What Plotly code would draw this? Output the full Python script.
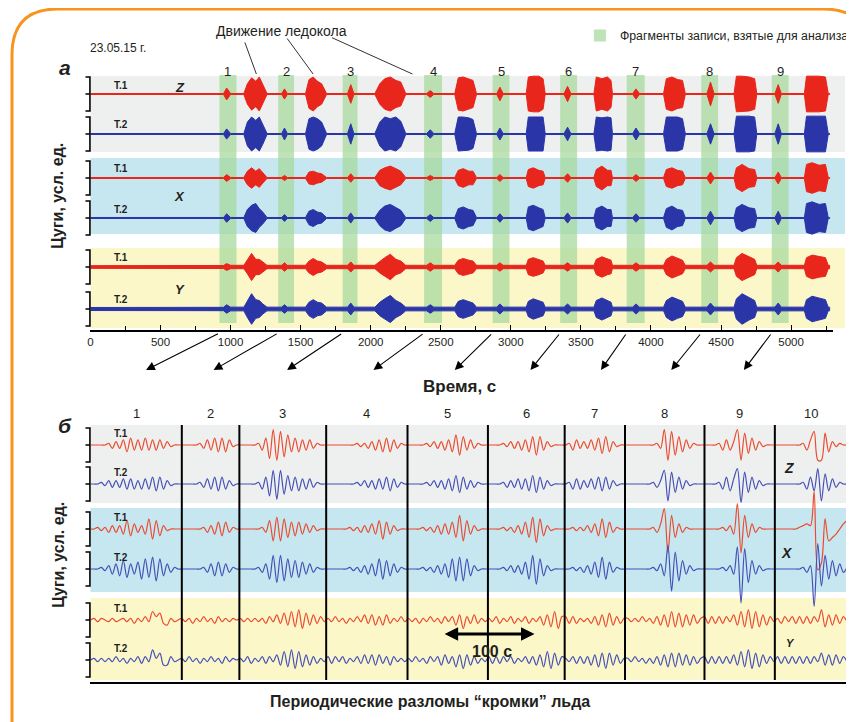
import numpy as np
import plotly.graph_objects as go

# the page adds an 8 px body margin, so the figure is laid out in page pixels minus 8
PAGE_W, PAGE_H, OFF = 854, 722, 8
W, H = PAGE_W - OFF, PAGE_H - OFF
def fx(p): return (p - OFF) / W
def fy(p): return 1 - (p - OFF) / H

FONT = 'Liberation Sans, Arial, Helvetica, sans-serif'
INK = '#231f20'
RED_A, BLUE_A = '#e8261c', '#2a35a8'
RED_B, BLUE_B = '#ea4b2f', '#4550b6'
GRAY_BAND, CYAN_BAND, YELLOW_BAND = '#eef0ef', '#c6e6f0', '#fbf7c9'
GREEN = 'rgba(165,216,155,0.72)'
ORANGE = '#f7941d'

# ---------------- DATA: panel "а" (time, s) ----------------
frag_start = [921, 1340, 1800, 2381, 2870, 3352, 3827, 4359, 4862]
frag_end = [1042, 1453, 1906, 2509, 2990, 3473, 3955, 4479, 4982]
frag_labels = ['1', '2', '3', '4', '5', '6', '7', '8', '9']
arrow_head_t = [397, 879, 1403, 2020, 2600, 3140, 3643, 4145, 4663]
icebreaker_t = [1184, 1589, 2298]

t_a = [0,
       950, 972, 1000,
       1095, 1120, 1150, 1180, 1205, 1230, 1260,
       1365, 1385, 1405,
       1535, 1560, 1590, 1620, 1650, 1685,
       1835, 1858, 1880,
       2030, 2065, 2100, 2140, 2180, 2215, 2250,
       2400, 2425, 2450,
       2600, 2625, 2660, 2700, 2730, 2755,
       2900, 2922, 2945,
       3110, 3125, 3160, 3200, 3230, 3245,
       3380, 3405, 3428,
       3593, 3610, 3650, 3690, 3715, 3725,
       3870, 3893, 3918,
       4090, 4110, 4150, 4190, 4225, 4245,
       4400, 4425, 4450,
       4593, 4610, 4650, 4700, 4740, 4755,
       4885, 4908, 4930,
       5095, 5110, 5150, 5200, 5245, 5265,
       5275]

# envelope amplitudes (bracket half-height = 1)
z1_a = [0.03,
        0.03, 0.35, 0.03,
        0.03, 0.6, 0.95, 0.75, 1.0, 0.55, 0.03,
        0.03, 0.3, 0.03,
        0.03, 0.85, 1.0, 0.75, 0.6, 0.03,
        0.03, 0.55, 0.03,
        0.03, 0.6, 0.9, 1.0, 0.8, 0.7, 0.03,
        0.03, 0.2, 0.03,
        0.03, 0.95, 1.0, 0.9, 0.8, 0.03,
        0.03, 0.4, 0.03,
        0.03, 1.0, 1.05, 1.05, 0.9, 0.03,
        0.03, 0.45, 0.03,
        0.03, 1.0, 0.9, 1.0, 0.8, 0.03,
        0.03, 0.3, 0.03,
        0.03, 0.9, 1.0, 0.85, 0.8, 0.03,
        0.03, 0.7, 0.03,
        0.03, 1.05, 1.05, 1.0, 0.9, 0.03,
        0.03, 0.55, 0.03,
        0.03, 1.05, 1.05, 1.05, 1.0, 0.03,
        0.03]
z2_a = [0.03,
        0.03, 0.3, 0.03,
        0.03, 0.7, 1.0, 0.8, 1.0, 0.6, 0.03,
        0.03, 0.35, 0.03,
        0.03, 0.9, 1.0, 0.9, 0.7, 0.03,
        0.03, 0.6, 0.03,
        0.03, 0.7, 1.0, 0.9, 1.0, 0.75, 0.03,
        0.03, 0.25, 0.03,
        0.03, 1.0, 1.0, 0.95, 0.85, 0.03,
        0.03, 0.35, 0.03,
        0.03, 1.0, 1.0, 1.0, 1.0, 0.03,
        0.03, 0.4, 0.03,
        0.03, 1.0, 0.95, 1.0, 0.95, 0.03,
        0.03, 0.35, 0.03,
        0.03, 1.0, 1.0, 1.0, 0.9, 0.03,
        0.03, 0.6, 0.03,
        0.03, 1.05, 1.05, 1.05, 1.0, 0.03,
        0.03, 0.6, 0.03,
        0.03, 1.05, 1.05, 1.05, 1.05, 0.03,
        0.03]
x1_a = [0.03,
        0.03, 0.2, 0.03,
        0.03, 0.4, 0.6, 0.4, 0.55, 0.3, 0.03,
        0.03, 0.15, 0.03,
        0.03, 0.35, 0.4, 0.3, 0.25, 0.03,
        0.03, 0.25, 0.03,
        0.03, 0.45, 0.6, 0.7, 0.55, 0.4, 0.03,
        0.03, 0.15, 0.03,
        0.03, 0.45, 0.55, 0.4, 0.4, 0.03,
        0.03, 0.2, 0.03,
        0.03, 0.5, 0.6, 0.45, 0.4, 0.03,
        0.03, 0.25, 0.03,
        0.03, 0.5, 0.7, 0.45, 0.45, 0.03,
        0.03, 0.2, 0.03,
        0.03, 0.5, 0.6, 0.45, 0.4, 0.03,
        0.03, 0.35, 0.03,
        0.03, 0.6, 0.8, 0.55, 0.5, 0.03,
        0.03, 0.35, 0.03,
        0.03, 0.8, 0.9, 0.75, 0.8, 0.03,
        0.03]
x2_a = [0.03,
        0.03, 0.25, 0.03,
        0.03, 0.5, 0.75, 0.85, 0.55, 0.35, 0.03,
        0.03, 0.2, 0.03,
        0.03, 0.4, 0.5, 0.35, 0.3, 0.03,
        0.03, 0.3, 0.03,
        0.03, 0.45, 0.7, 0.8, 0.6, 0.45, 0.03,
        0.03, 0.2, 0.03,
        0.03, 0.55, 0.65, 0.5, 0.45, 0.03,
        0.03, 0.25, 0.03,
        0.03, 0.65, 0.75, 0.6, 0.5, 0.03,
        0.03, 0.3, 0.03,
        0.03, 0.55, 0.7, 0.5, 0.5, 0.03,
        0.03, 0.25, 0.03,
        0.03, 0.55, 0.7, 0.5, 0.45, 0.03,
        0.03, 0.4, 0.03,
        0.03, 0.6, 0.8, 0.6, 0.55, 0.03,
        0.03, 0.4, 0.03,
        0.03, 0.85, 0.95, 0.8, 0.85, 0.03,
        0.03]
y1_a = [0.08,
        0.09, 0.2, 0.1,
        0.1, 0.4, 0.8, 0.45, 0.45, 0.3, 0.1,
        0.1, 0.25, 0.1,
        0.1, 0.35, 0.5, 0.35, 0.3, 0.1,
        0.1, 0.3, 0.1,
        0.1, 0.35, 0.55, 0.75, 0.45, 0.35, 0.1,
        0.1, 0.25, 0.1,
        0.1, 0.4, 0.5, 0.4, 0.35, 0.1,
        0.1, 0.25, 0.1,
        0.1, 0.45, 0.55, 0.45, 0.35, 0.1,
        0.1, 0.25, 0.1,
        0.1, 0.45, 0.6, 0.45, 0.4, 0.1,
        0.1, 0.25, 0.1,
        0.1, 0.45, 0.65, 0.5, 0.4, 0.1,
        0.1, 0.3, 0.1,
        0.1, 0.55, 0.8, 0.6, 0.45, 0.1,
        0.1, 0.3, 0.1,
        0.1, 0.55, 0.7, 0.6, 0.55, 0.1,
        0.1]
y2_a = [0.09,
        0.1, 0.25, 0.11,
        0.11, 0.5, 0.9, 0.55, 0.5, 0.3, 0.11,
        0.11, 0.25, 0.11,
        0.11, 0.4, 0.55, 0.4, 0.35, 0.11,
        0.11, 0.35, 0.11,
        0.11, 0.4, 0.6, 0.8, 0.5, 0.35, 0.11,
        0.11, 0.25, 0.11,
        0.11, 0.45, 0.55, 0.45, 0.35, 0.11,
        0.11, 0.3, 0.11,
        0.11, 0.45, 0.6, 0.5, 0.4, 0.11,
        0.11, 0.3, 0.11,
        0.11, 0.5, 0.65, 0.5, 0.4, 0.11,
        0.11, 0.3, 0.11,
        0.11, 0.5, 0.7, 0.55, 0.45, 0.11,
        0.11, 0.35, 0.11,
        0.11, 0.6, 0.9, 0.65, 0.5, 0.11,
        0.11, 0.35, 0.11,
        0.11, 0.55, 0.75, 0.65, 0.55, 0.11,
        0.11]

# ---------------- DATA: panel "б" (sampled every 4 s; 10 = bracket half-height) ----------------
dt_b = 4.0
seg_edges_b = [100, 163, 258, 347, 435, 519, 585, 672, 749]
t_end_b = 828
seg_labels_b = ['1', '2', '3', '4', '5', '6', '7', '8', '9', '10']
scale_bar_s = 100

z1_b = [[0,0,0,0,0,1,-2,2,-2,3,-4,4,-3,3,-3,4,-3,3,-3,3,-2,2,-1,0,0],
        [0,0,0,0,0,1,-2,3,-3,4,-4,4,-4,3,-1,0],
        [0,0,0,0,0,1,-3,4,-8,9,-9,8,-7,6,-4,4,-4,3,-3,3,-2,1,0,0],
        [0,0,0,0,0,0,0,0,1,-1,1,-2,2,-3,3,-4,4,-4,3,-2,1,0],
        [0,0,0,0,0,1,-1,2,-2,2,-3,3,-4,6,-6,5,-3,3,-2,1,0,0],
        [0,0,0,0,1,-1,2,-2,2,-3,3,-4,5,-6,5,-3,2,-1,0,0,0],
        [0,1,-3,3,-2,2,-2,3,-3,4,-5,5,-4,2,-1,0,0],
        [0,0,0,0,0,0,0,0,1,-2,9,-9,8,-6,5,-4,3,-2,1,0,0],
        [0,0,0,0,1,-3,3,-3,2,9,-9,7,-5,4,-3,2,-1,0,0,0],
        [0,0,0,0,0,0,0,1,-3,3,8,-9,-9,7,-4,2,-1,1,0,0]]
z2_b = [[0,0,0,1,-1,2,-2,2,-2,3,-3,3,-3,2,-3,3,-3,4,-4,4,-3,2,-1,0,0],
        [0,0,0,0,0,1,-2,3,-3,4,-4,4,-3,2,-1,0],
        [0,0,0,0,0,1,-3,4,-7,8,-9,8,-6,5,-4,4,-4,3,-3,3,-2,1,0,0],
        [0,0,0,0,0,0,0,0,1,-1,2,-2,2,-3,3,-3,4,-4,3,-2,1,0],
        [0,0,0,0,0,1,-1,2,-2,2,-3,3,-4,5,-5,4,-3,2,-2,1,0,0],
        [0,0,0,0,1,-2,2,-2,3,-3,3,-4,5,-5,4,-3,2,-1,0,0,0],
        [0,1,-3,3,-3,2,-2,3,-3,4,-4,4,-3,2,-1,0,0],
        [0,0,0,0,0,0,0,1,-2,2,8,-10,7,-5,4,-3,2,-1,0,0,0],
        [0,0,0,0,1,-3,4,-4,3,9,-11,7,-5,4,-3,2,-1,0,0,0],
        [0,0,0,0,0,0,0,1,-3,4,-4,9,-10,6,-4,3,-2,1,0,0]]
x1_b = [[0,0,1,-1,1,-2,2,-2,2,-3,5,-4,3,-2,2,-3,6,-6,5,-4,2,-1,0,0,0],
        [0,0,0,0,0,0,1,-2,2,-3,4,-4,4,-2,1,0],
        [0,0,0,0,0,0,1,-2,5,-7,7,-7,6,-5,4,-4,4,-3,3,-2,2,-1,0,0],
        [0,0,0,0,0,0,1,-1,1,-2,2,-2,3,-3,5,-6,4,-3,2,-1,0,0],
        [0,0,0,0,1,-1,1,-2,2,-3,3,-3,4,-5,8,-7,5,-3,2,-1,0,0],
        [0,0,0,0,1,-1,1,-2,2,-3,4,-5,7,-8,6,-4,2,-1,0,0,0],
        [0,0,1,-1,1,-1,2,-2,3,-4,6,-5,4,-2,1,0,0],
        [0,0,0,0,0,0,0,1,-2,3,12,-14,8,-5,3,-2,1,0,0,0,0],
        [0,0,0,0,0,1,-1,2,-3,15,-14,8,-5,3,-2,1,0,0,0,0],
        [0,0,0,0,0,0,1,2,3,2,22,-24,-20,6,-7,-5,-3,0,3,5]]
x2_b = [[0,0,0,1,-1,2,-3,3,-4,5,-5,3,-3,4,-6,6,-5,7,-7,6,-4,3,-2,1,0],
        [0,0,0,0,0,0,1,-2,3,-4,4,-4,3,-2,1,0],
        [0,0,0,0,0,1,-2,3,-6,8,-8,8,-7,6,-5,5,-5,4,-3,3,-2,1,0,0],
        [0,0,0,0,0,0,1,-1,1,-2,2,-3,3,-4,6,-6,5,-4,3,-2,1,0],
        [0,0,0,0,1,-1,1,-2,2,-3,3,-5,6,-7,7,-7,6,-4,2,-1,0,0],
        [0,0,0,0,1,-1,2,-2,2,-3,4,-6,8,-9,6,-4,2,-1,0,0,0],
        [0,0,1,-1,1,-2,2,-3,4,-5,7,-6,4,-2,1,0,0],
        [0,0,0,0,0,0,0,1,-1,3,-4,14,-13,10,-7,5,-3,2,-1,0,0],
        [0,0,0,0,0,1,-1,2,-3,13,-20,12,-8,5,-3,2,-1,0,0,0],
        [0,0,0,0,0,0,0,1,-2,2,-22,15,-10,8,-6,5,-4,3,-2,1]]
y1_b = [[0,1,-1,1,0,-1,1,-1,0,1,-1,1,-2,1,-1,2,-1,5,2,4,-2,-3,1,-1,0],
        [1,-1,1,-2,1,-1,2,-1,1,-2,2,-1,1,-1,1,0],
        [1,-1,1,-1,1,-1,1,-2,2,-1,3,-2,4,-3,5,-4,6,-5,4,-3,3,-2,2,-1],
        [1,-1,2,-1,1,-2,1,-1,2,-1,3,-2,3,-3,2,-3,3,-2,1,-1,2,-1],
        [1,-1,1,-2,1,-1,2,-1,1,-2,2,-1,2,-3,3,-5,2,-2,3,-2,1,-1],
        [1,-1,2,-2,1,-1,2,-2,1,-1,2,-2,1,-1,2,-3,3,-4,5,-5,2],
        [2,-2,2,-2,1,-1,1,-2,2,-3,3,-4,4,-3,2,-2,1],
        [1,-1,1,-1,2,-1,1,-2,2,-3,3,-4,5,-4,4,-4,3,-3,3,-2,1],
        [2,-2,2,-2,2,-2,2,-1,3,-3,5,-4,6,-5,5,-4,3,-3,2,-1],
        [1,-2,2,-1,2,-2,2,-2,2,-2,2,-1,6,-4,3,-3,3,-2,2,-1]]
y2_b = [[0,1,-1,1,-1,1,-1,2,-1,1,-2,1,-1,2,-2,2,-1,6,1,4,-3,-3,2,-1,0],
        [1,-1,2,-1,1,-2,1,-1,2,-1,1,-2,2,-1,1,0],
        [1,-1,2,-2,1,-1,2,-2,2,-1,3,-3,5,-4,6,-5,5,-4,3,-3,2,-2,1,-1],
        [2,-2,2,-1,2,-2,1,-1,2,-2,3,-2,3,-3,3,-2,2,-3,2,-1,1,-1],
        [1,-1,2,-1,1,-2,2,-1,2,-3,3,-2,2,-4,3,-5,3,-3,2,-2,1,-1],
        [2,-2,2,-2,2,-1,2,-2,1,-1,2,-2,2,-3,3,-4,5,-5,4,-3,2],
        [1,-1,2,-2,2,-2,2,-3,3,-4,4,-5,4,-3,3,-2,1],
        [1,-1,2,-1,1,-2,1,-2,2,-3,3,-4,4,-4,4,-3,3,-3,2,-2,1],
        [2,-2,2,-2,2,-2,2,-2,3,-3,5,-4,6,-5,4,-4,3,-2,2,-1],
        [2,-2,2,-2,2,-2,2,-2,2,-2,2,-1,4,-3,3,-3,3,-2,2,-1]]

# ---------------- LAYOUT GEOMETRY (page pixels) ----------------
BR = 17  # bracket half-height, px
A_X = (88, 836); A_TOP, A_BOT = 76, 328
B_X = (88, 850); B_TOP, B_BOT = 425, 680
brackets_a = [(77, 111), (117, 151), (161, 195), (201, 235), (250, 284), (291, 327)]
brackets_b = [(428, 462), (467, 501), (512, 546), (552, 586), (603, 637), (643, 677)]
SPINE_X, TICK_LEN = 87.5, 4.5

def off_a(d):
    return (A_BOT - (d[0] + d[1]) / 2) / BR
def off_b(d):
    return (B_BOT - (d[0] + d[1]) / 2) / BR * 10

fig = go.Figure()
layout = dict(
    width=W, height=H, margin=dict(l=0, r=0, t=0, b=0),
    paper_bgcolor='white', plot_bgcolor='rgba(0,0,0,0)',
    font=dict(family=FONT, color=INK, size=12),
    showlegend=True, hovermode=False,
    legend=dict(x=fx(581), y=fy(21), xanchor='left', yanchor='top',
                bgcolor='rgba(0,0,0,0)', font=dict(size=12.3, family=FONT, color=INK),
                itemwidth=30),
)
layout['xaxis'] = dict(domain=[fx(A_X[0]), fx(A_X[1])], range=[0, 5300], anchor='y2',
                       showline=True, linecolor='black', linewidth=1.6,
                       ticks='inside', ticklen=5, tickwidth=1.3, tickcolor='black',
                       tick0=0, dtick=500, showgrid=False, zeroline=False,
                       minor=dict(dtick=250, ticks='inside', ticklen=4, tickwidth=1.2,
                                  tickcolor='black', showgrid=False),
                       tickfont=dict(size=11.5, family=FONT, color=INK))
layout['xaxis2'] = dict(domain=[fx(B_X[0]), fx(B_X[1])], range=[0, t_end_b], anchor='y3',
                        showline=True, linecolor='black', linewidth=2, showticklabels=False,
                        ticks='', showgrid=False, zeroline=False)
# helper x axis in page pixels for the left brackets
layout['xaxis3'] = dict(domain=[fx(76), fx(100)], range=[76, 100], anchor='y2', visible=False)
layout['yaxis'] = dict(domain=[fy(323), fy(75)], range=[0, 1], anchor='x', visible=False)
layout['yaxis2'] = dict(domain=[fy(A_BOT + 2), fy(A_TOP - 2)],
                        range=[-2 / BR, (A_BOT - A_TOP + 2) / BR], anchor='x', visible=False)
layout['yaxis3'] = dict(domain=[fy(B_BOT + 2), fy(B_TOP - 2)],
                        range=[-20 / BR, (B_BOT - B_TOP + 2) / BR * 10], anchor='x2', visible=False)

# ---- green fragment bars (legend item) ----
fs, fe = np.array(frag_start), np.array(frag_end)
fig.add_trace(go.Bar(x=(fs + fe) / 2, y=[1] * len(fs), width=fe - fs, base=0,
                     marker=dict(color=GREEN, line=dict(width=0)),
                     name='Фрагменты записи, взятые для анализа',
                     xaxis='x', yaxis='y', showlegend=True))

# ---- panel a traces ----
ta = np.array(t_a, dtype=float)
for env, col, d in zip([z1_a, z2_a, x1_a, x2_a, y1_a, y2_a],
                       [RED_A, BLUE_A, RED_A, BLUE_A, RED_A, BLUE_A], brackets_a):
    e = np.array(env, dtype=float)
    n = min(len(e), len(ta))
    o = off_a(d)
    xs = list(ta[:n]) + list(ta[:n][::-1])
    ys = list(o + e[:n]) + list((o - e[:n])[::-1])
    fig.add_trace(go.Scatter(x=xs, y=ys, mode='lines', fill='toself', fillcolor=col,
                             line=dict(color=col, width=1), xaxis='x', yaxis='y2',
                             showlegend=False))

# ---- panel b traces ----
for segs, col, d in zip([z1_b, z2_b, x1_b, x2_b, y1_b, y2_b],
                        [RED_B, BLUE_B, RED_B, BLUE_B, RED_B, BLUE_B], brackets_b):
    v = np.array([s for seg in segs for s in seg], dtype=float)
    tb = np.arange(len(v)) * dt_b
    fig.add_trace(go.Scatter(x=tb, y=off_b(d) + v, mode='lines',
                             line=dict(color=col, width=1.2, shape='spline', smoothing=0.9),
                             xaxis='x2', yaxis='y3', showlegend=False))

# ---- bracket scales at the left of every trace ----
def bracket_xy(offsets, half):
    bx, by = [], []
    x0, x1 = SPINE_X - TICK_LEN, SPINE_X
    for o in offsets:
        bx += [x0, x1, x1, x0, None, x0, x1, None]
        by += [o + half, o + half, o - half, o - half, None, o, o, None]
    return bx, by
bx, by = bracket_xy([off_a(d) for d in brackets_a], 1)
fig.add_trace(go.Scatter(x=bx, y=by, mode='lines', line=dict(color='black', width=1.6),
                         xaxis='x3', yaxis='y2', showlegend=False))
bx, by = bracket_xy([off_b(d) for d in brackets_b], 10)
fig.add_trace(go.Scatter(x=bx, y=by, mode='lines', line=dict(color='black', width=1.6),
                         xaxis='x3', yaxis='y3', showlegend=False))

# ---------------- shapes ----------------
shapes = []
def band(x0, x1, y0, y1, col):
    shapes.append(dict(type='rect', xref='paper', yref='paper', x0=fx(x0), x1=fx(x1),
                       y0=fy(y1), y1=fy(y0), fillcolor=col, line=dict(width=0), layer='below'))
band(88, 848, 76, 152, GRAY_BAND)
band(88, 848, 158, 234, CYAN_BAND)
band(88, 848, 248, 328, YELLOW_BAND)
band(88, 851, 425, 503, GRAY_BAND)
band(88, 851, 508, 592, CYAN_BAND)
band(88, 851, 598, 680, YELLOW_BAND)

for e in seg_edges_b:
    shapes.append(dict(type='line', xref='x2', yref='paper', x0=e, x1=e,
                       y0=fy(B_BOT), y1=fy(B_TOP), line=dict(color='black', width=2), layer='above'))

# orange rounded frame (right and bottom parts run off the picture)
r = 46
LX, TY, RX = 9, 9, 872
path = f'M {fx(LX)},{fy(820)} L {fx(LX)},{fy(TY + r)} Q {fx(LX)},{fy(TY)} {fx(LX + r)},{fy(TY)} ' \
       f'L {fx(RX - r)},{fy(TY)} Q {fx(RX)},{fy(TY)} {fx(RX)},{fy(TY + r)} L {fx(RX)},{fy(820)}'
shapes.append(dict(type='path', xref='paper', yref='paper', path=path,
                   line=dict(color=ORANGE, width=3), fillcolor='rgba(0,0,0,0)', layer='above'))
layout['shapes'] = shapes

# ---------------- annotations ----------------
ann = []
def txt(x, y, s, size=12, xanchor='center', angle=0, **kw):
    ann.append(dict(x=fx(x), y=fy(y), xref='paper', yref='paper', text=s, showarrow=False,
                    xanchor=xanchor, yanchor='middle', textangle=angle,
                    font=dict(size=size, family=FONT, color=INK), **kw))

txt(86, 48, '23.05.15 г.', 12, 'left')
txt(62, 67, '<b><i>а</i></b>', 21)
txt(62, 425, '<b><i>б</i></b>', 21)
txt(280, 31, 'Движение ледокола', 14)
txt(55, 196, '<b>Цуги, усл. ед.</b>', 16, angle=-90)
txt(55, 555, '<b>Цуги, усл. ед.</b>', 16, angle=-90)
txt(460, 386, '<b>Время, с</b>', 17)
txt(430, 701, '<b>Периодические разломы “кромки” льда</b>', 16)
txt(492, 651, '<b>100 с</b>', 16)

for i, d in enumerate(brackets_a):
    txt(110, d[0] + 8, '<b>Т.%d</b>' % (1 + i % 2), 10, 'left')
for i, d in enumerate(brackets_b):
    txt(110, d[0] + 5, '<b>Т.%d</b>' % (1 + i % 2), 10, 'left')
txt(178, 87, '<b><i>Z</i></b>', 13)
txt(178, 197, '<b><i>X</i></b>', 13)
txt(178, 290, '<b><i>Y</i></b>', 13)
txt(792, 468, '<b><i>Z</i></b>', 14)
txt(790, 553, '<b><i>X</i></b>', 14)
txt(793, 643, '<b><i>Y</i></b>', 11)

for s, e, lab in zip(frag_start, frag_end, frag_labels):
    ann.append(dict(x=(s + e) / 2, y=fy(62), xref='x', yref='paper', text=lab, showarrow=False,
                    font=dict(size=13, family=FONT, color=INK)))
edges = [0] + seg_edges_b + [t_end_b]
for i, lab in enumerate(seg_labels_b):
    ann.append(dict(x=(edges[i] + edges[i + 1]) / 2, y=fy(413), xref='x2', yref='paper', text=lab,
                    showarrow=False, font=dict(size=13, family=FONT, color=INK)))
for s, h in zip(frag_start, arrow_head_t):
    ann.append(dict(x=h, y=fy(370), xref='x', yref='paper', ax=s, axref='x', ay=-37, ayref='pixel',
                    text='', showarrow=True, arrowhead=2, arrowsize=1.6, arrowwidth=1.1,
                    arrowcolor='black'))
for t_ib, (dx, dy) in zip(icebreaker_t, [(-12, -33), (-27, -37), (-82, -37)]):
    ann.append(dict(x=t_ib, y=fy(74), xref='x', yref='paper', ax=dx, ay=dy,
                    text='', showarrow=True, arrowhead=0, arrowwidth=1, arrowcolor='#333333'))
sb0 = 386
ann.append(dict(x=sb0 + scale_bar_s, y=fy(634), xref='x2', yref='paper', ax=sb0, axref='x2',
                ay=0, ayref='pixel', text='', showarrow=True, arrowhead=2, arrowside='end+start',
                arrowsize=0.9, arrowwidth=3, arrowcolor='black'))
layout['annotations'] = ann

fig.update_layout(**layout)
fig.write_html('out.html')
